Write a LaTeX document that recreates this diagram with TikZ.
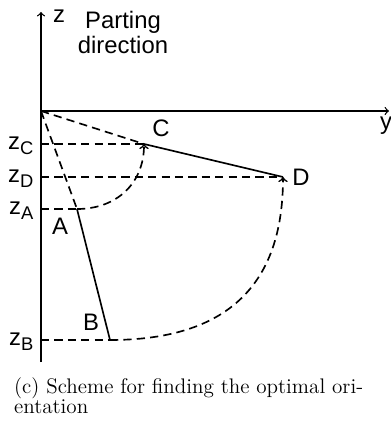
\documentclass[tikz,border=0pt]{standalone}
\usepackage{fontspec}
\newfontfamily\labelfont{Liberation Sans}
\usetikzlibrary{positioning}
\newcommand{\sbs}[1]{\raisebox{-0.45ex}{\fontsize{10}{10}\selectfont #1}}

\begin{document}
\begin{tikzpicture}[x=0.545pt, y=-0.545pt, every node/.style={font=\labelfont\fontsize{13}{13.6}\selectfont, inner sep=1pt}, dsh/.style={line width=0.9pt, dash pattern=on 4.5pt off 2.8pt}, sld/.style={line width=0.9pt}, ax/.style={line width=0.7pt, ->}]
	\useasboundingbox (0,0) rectangle (390,443);
	\coordinate (O) at (41,111);
	\coordinate (Ztop) at (41,12);
	\coordinate (Zbot) at (41,362);
	\coordinate (Yend) at (389,111);
	\coordinate (A) at (77,209);
	\coordinate (B) at (110,340);
	\coordinate (C) at (144,144);
	\coordinate (D) at (283,177);
	\foreach \p in {A,B,C,D} {\coordinate (z\p) at (O |- \p);}
	\draw[ax] (Zbot) -- (Ztop);
	\draw[ax] (O) -- (Yend);
	\foreach \p in {A,B,C,D} {\draw[dsh] (z\p) -- (\p);}
	\draw[dsh] (O) -- (A);
	\draw[dsh] (O) -- (C);
	\draw[sld] (A) -- (B);
	\draw[sld] (C) -- (D);
	\draw[dsh, ->] (A) .. controls +(40,0) and +(0,39) .. (C);
	\draw[dsh, ->] (B) .. controls +(116,0) and +(0,109) .. (D);
	\node (lz) at (59,16) {z};
	\node[align=center] (part) at (123,32) {Parting\\direction};
	\node (ly) at (386,126) {y};
	\node (lA) at (60,226) {A};
	\node (lB) at (91,322) {B};
	\node (lC) at (161,128) {C};
	\node (lD) at (301,177) {D};
	\foreach \p in {A,B,C,D} {\node[left=3pt of z\p, yshift=-1pt] (lz\p) {z\sbs{\p}};}
	\node[font=\rmfamily\fontsize{11.5}{11.4}\selectfont, anchor=north west, align=left] (cap) at (12,375) {(c) Scheme for finding the optimal ori-\\entation};
\end{tikzpicture}
\end{document}
